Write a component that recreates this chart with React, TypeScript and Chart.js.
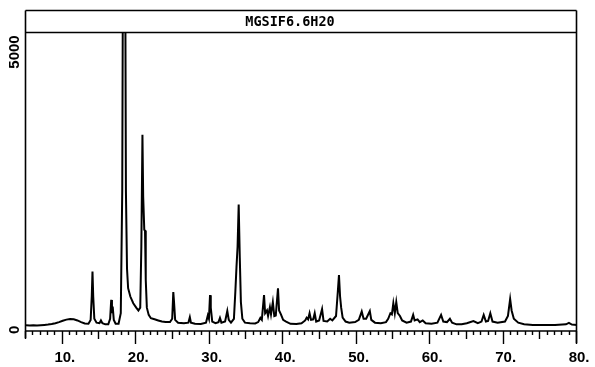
import React, { useEffect, useRef } from "react";
import { Chart, registerables } from "chart.js";

Chart.register(...registerables);

// Powder diffraction trace: 2-theta (degrees) and counts
const twoTheta: number[] = [
  5.0, 5.5, 6.0, 6.5, 7.0, 7.5, 8.0, 8.5, 9.0, 9.5, 10.0, 10.5, 11.0, 11.5, 12.0, 12.5, 13.0, 13.5,
  13.8, 13.95, 14.05, 14.15, 14.3, 14.6, 15.0, 15.2, 15.4, 15.8, 16.2, 16.45, 16.6, 16.7, 16.8, 16.95,
  17.2, 17.6, 17.9, 18.1, 18.25, 18.45, 18.6, 18.75, 18.9, 19.2, 19.6, 20.0, 20.3, 20.55, 20.7, 20.85,
  20.95, 21.1, 21.2, 21.3, 21.45, 21.7, 22.0, 22.5, 23.0, 23.5, 24.0, 24.6, 24.9, 25.05, 25.15, 25.3,
  25.7, 26.5, 27.1, 27.3, 27.45, 28.0, 28.8, 29.5, 29.75, 29.9, 30.05, 30.15, 30.35, 30.8, 31.2, 31.4,
  31.6, 32.1, 32.4, 32.6, 32.9, 33.3, 33.5, 33.65, 33.8, 33.95, 34.1, 34.25, 34.45, 34.8, 35.5, 36.2,
  36.6, 36.9, 37.1, 37.4, 37.55, 37.8, 37.95, 38.2, 38.35, 38.6, 38.8, 39.0, 39.3, 39.45, 39.7, 40.0,
  40.4, 41.0, 41.8, 42.5, 43.0, 43.2, 43.4, 43.6, 43.8, 44.1, 44.3, 44.5, 44.9, 45.3, 45.5, 46.0,
  46.4, 46.7, 47.2, 47.45, 47.6, 47.75, 47.9, 48.1, 48.5, 49.0, 49.8, 50.3, 50.7, 50.95, 51.3, 51.8,
  52.0, 52.5, 53.3, 54.0, 54.3, 54.6, 54.8, 55.0, 55.2, 55.4, 55.6, 55.9, 56.2, 56.8, 57.4, 57.7,
  57.9, 58.3, 58.6, 59.0, 59.4, 60.2, 61.0, 61.5, 61.8, 62.3, 62.7, 63.0, 63.6, 64.3, 65.0, 65.9,
  66.5, 67.0, 67.3, 67.6, 67.9, 68.2, 68.5, 69.2, 70.2, 70.6, 70.9, 71.1, 71.4, 72.0, 72.8, 74.0,
  75.5, 77.0, 78.5, 78.9, 79.3, 80.0,
];

const counts: number[] = [
  85, 80, 82, 80, 85, 90, 95, 105, 120, 140, 165, 185, 195, 190, 170, 140, 115, 110,
  180, 600, 1050, 600, 200, 130, 120, 170, 120, 100, 100, 200, 540, 300, 420, 180,
  110, 110, 300, 2500, 9000, 9000, 2500, 1100, 750, 600, 480, 400, 350, 400, 1500, 3510,
  2400, 1800, 1790, 900, 400, 270, 210, 190, 170, 150, 140, 140, 200, 680, 500, 180,
  130, 120, 130, 230, 130, 110, 105, 130, 260, 200, 625, 400, 150, 120, 140, 215,
  130, 150, 340, 180, 130, 200, 700, 1130, 1500, 2255, 1300, 500, 200, 130, 120, 115,
  140, 215, 180, 625, 300, 350, 250, 410, 280, 500, 250, 260, 750, 350, 280, 180,
  150, 110, 105, 120, 170, 220, 190, 300, 180, 190, 300, 150, 170, 375, 160, 150,
  200, 170, 250, 700, 985, 600, 400, 220, 150, 130, 140, 180, 330, 200, 200, 340,
  180, 130, 120, 140, 200, 300, 280, 480, 300, 500, 300, 250, 170, 130, 150, 270,
  170, 190, 140, 170, 120, 110, 130, 270, 150, 140, 200, 130, 100, 100, 120, 160,
  120, 150, 270, 150, 160, 300, 150, 130, 150, 250, 555, 350, 200, 130, 100, 90,
  90, 90, 100, 125, 95, 90,
];

const xLabels: number[] = [10, 20, 30, 40, 50, 60, 70, 80];
const yLabels: number[] = [0, 5000];
const sampleName = "MGSIF6.6H20";

const X_MIN = 5;
const X_MAX = 80;
const Y_MIN = -20;
const Y_MAX = 5360;

const frame = {
  id: "frame",
  afterDraw(chart: any) {
    const { ctx, chartArea, scales } = chart;
    const xs = scales.x;
    const ys = scales.y;
    const L = chartArea.left - 0.5;
    const R = chartArea.right - 0.5;
    const B = chartArea.bottom;
    const boxTop = 10.5;
    const boxBottom = chartArea.top + 0.5;

    ctx.save();
    ctx.strokeStyle = "#000";
    ctx.fillStyle = "#000";
    ctx.lineWidth = 1.6;

    // header box
    ctx.beginPath();
    ctx.moveTo(L, boxTop);
    ctx.lineTo(R, boxTop);
    ctx.moveTo(L, boxBottom);
    ctx.lineTo(R, boxBottom);
    // side frame lines
    ctx.moveTo(L, boxTop);
    ctx.lineTo(L, B + 7);
    ctx.moveTo(R, boxTop);
    ctx.lineTo(R, B + 12);
    // x axis
    ctx.moveTo(L, B);
    ctx.lineTo(R, B);
    ctx.stroke();

    // x ticks every degree, longer at 5 and 10
    ctx.lineWidth = 1.4;
    ctx.beginPath();
    for (let v = X_MIN; v <= X_MAX; v++) {
      const px = Math.round(xs.getPixelForValue(v)) - 0.5;
      const len = v % 10 === 0 ? 13 : v % 5 === 0 ? 8 : 4;
      ctx.moveTo(px, B);
      ctx.lineTo(px, B + len);
    }
    ctx.stroke();

    // header text
    ctx.font = "bold 13.5px 'DejaVu Sans Mono'";
    ctx.textAlign = "center";
    ctx.textBaseline = "middle";
    ctx.fillText(sampleName, 290, 22);

    // x labels
    ctx.font = "bold 15px 'Liberation Sans'";
    ctx.textAlign = "left";
    for (const v of xLabels) {
      const s = String(v);
      const w = ctx.measureText(s).width;
      const px = xs.getPixelForValue(v);
      ctx.fillText(s + ".", px - w / 2, 358);
    }

    // y labels, rotated
    for (const v of yLabels) {
      const py = ys.getPixelForValue(v);
      ctx.save();
      ctx.translate(15, py);
      ctx.rotate(-Math.PI / 2);
      ctx.textAlign = "center";
      ctx.textBaseline = "middle";
      ctx.fillText(String(v), 0, 0);
      ctx.restore();
    }
    ctx.restore();
  },
};

export default function App() {
  const ref = useRef<HTMLCanvasElement | null>(null);

  useEffect(() => {
    if (!ref.current) return;
    const chart = new Chart(ref.current, {
      type: "line",
      data: {
        datasets: [
          {
            data: twoTheta.map((x, i) => ({ x, y: counts[i] })),
            borderColor: "#000",
            borderWidth: 2,
            pointRadius: 0,
            tension: 0,
            fill: false,
          },
        ],
      },
      options: {
        animation: false,
        responsive: false,
        devicePixelRatio: 1,
        layout: { padding: { left: 26, right: 18, top: 32, bottom: 36 } },
        plugins: { legend: { display: false }, tooltip: { enabled: false } },
        scales: {
          x: { type: "linear", min: X_MIN, max: X_MAX, display: false },
          y: { type: "linear", min: Y_MIN, max: Y_MAX, display: false },
        },
      },
      plugins: [frame],
    });
    return () => chart.destroy();
  }, []);

  return (
    <div style={{ position: "fixed", left: 0, top: 0, width: 595, height: 367, background: "#fff" }}>
      <canvas ref={ref} width={595} height={367} />
    </div>
  );
}
